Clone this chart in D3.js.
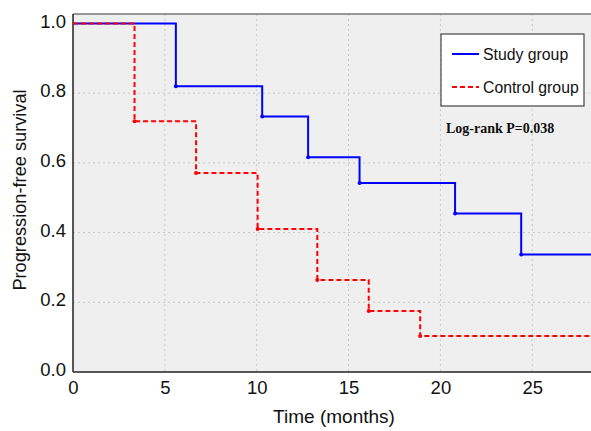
<!DOCTYPE html>
<style>
body { margin: 0; background: #fff; }
</style>
<svg id="km" width="591" height="431"></svg>
<script src="https://d3js.org/d3.v7.min.js"></script>
<script>

// step times (months) and survival after each step
var studyTimes = [0, 5.6, 10.3, 12.8, 15.6, 20.8, 24.4];
var studySurv = [1.0, 0.82, 0.733, 0.616, 0.542, 0.455, 0.337];
var controlTimes = [0, 3.35, 6.7, 10.05, 13.3, 16.1, 18.9];
var controlSurv = [1.0, 0.719, 0.571, 0.41, 0.264, 0.175, 0.103];
var xTicks = [0, 5, 10, 15, 20, 25];
var yTicks = [0, 0.2, 0.4, 0.6, 0.8, 1.0];
var xMax = 28.2;

var sans = "'Liberation Sans', Arial, sans-serif";
var svg = d3.select("#km");
var pL = 73, pR = 591, pT = 14, pB = 372;

var x = d3.scaleLinear().domain([0, xMax]).range([pL, pR]);
var y = d3.scaleLinear().domain([0, 1.027]).range([pB, pT]);

svg.append("rect")
  .attr("x", pL).attr("y", pT)
  .attr("width", pR - pL).attr("height", pB - pT)
  .attr("fill", "#efefef");

// dotted grid
svg.append("g").selectAll("line")
  .data(xTicks.slice(1))
  .enter().append("line")
    .attr("x1", function(d) { return x(d); })
    .attr("x2", function(d) { return x(d); })
    .attr("y1", pT).attr("y2", pB)
    .attr("stroke", "#c8c8c8").attr("stroke-dasharray", "2,3");

svg.append("g").selectAll("line")
  .data(yTicks.slice(1, 5))
  .enter().append("line")
    .attr("x1", pL).attr("x2", pR)
    .attr("y1", function(d) { return y(d); })
    .attr("y2", function(d) { return y(d); })
    .attr("stroke", "#c8c8c8").attr("stroke-dasharray", "2,3");

// frame
svg.append("line").attr("x1", pL).attr("x2", pR).attr("y1", pT).attr("y2", pT)
  .attr("stroke", "#777").attr("stroke-width", 1.5);
svg.append("line").attr("x1", pL).attr("x2", pR).attr("y1", pB).attr("y2", pB)
  .attr("stroke", "#222").attr("stroke-width", 1.5);
svg.append("line").attr("x1", pL).attr("x2", pL).attr("y1", pT).attr("y2", pB)
  .attr("stroke", "#222").attr("stroke-width", 1.5);

// axes (labels only)
var xAxis = svg.append("g")
  .attr("transform", "translate(0," + pB + ")")
  .call(d3.axisBottom(x).tickValues(xTicks).tickSize(0).tickPadding(9).tickFormat(d3.format("d")));
var yAxis = svg.append("g")
  .attr("transform", "translate(" + pL + ",0)")
  .call(d3.axisLeft(y).tickValues(yTicks).tickSize(0).tickPadding(7).tickFormat(d3.format(".1f")));
[xAxis, yAxis].forEach(function(a) {
  a.select(".domain").remove();
  a.selectAll("text").attr("font-size", 18.5).attr("fill", "#111")
    .attr("font-family", sans);
});
yAxis.selectAll("text").attr("dy", "0.2em");

svg.append("text")
  .attr("x", 334).attr("y", 423)
  .attr("font-family", sans)
  .attr("text-anchor", "middle").attr("font-size", 19).attr("fill", "#111")
  .text("Time (months)");
svg.append("text")
  .attr("transform", "translate(26,190) rotate(-90)")
  .attr("font-family", sans)
  .attr("text-anchor", "middle").attr("font-size", 18.2).attr("fill", "#111")
  .text("Progression-free survival");

function steps(times, surv) {
  var pts = [];
  times.forEach(function(t, i) { pts.push([t, surv[i]]); });
  pts.push([xMax, surv[surv.length - 1]]);
  return pts;
}

var line = d3.line()
  .x(function(d) { return x(d[0]); })
  .y(function(d) { return y(d[1]); })
  .curve(d3.curveStepAfter);

svg.append("clipPath").attr("id", "clip")
  .append("rect").attr("x", pL).attr("y", pT - 2)
  .attr("width", pR - pL).attr("height", pB - pT + 4);

var plot = svg.append("g").attr("clip-path", "url(#clip)");

plot.append("path")
  .datum(steps(studyTimes, studySurv))
  .attr("d", line)
  .attr("fill", "none").attr("stroke", "#0000ff").attr("stroke-width", 2);

plot.append("path")
  .datum(steps(controlTimes, controlSurv))
  .attr("d", line)
  .attr("fill", "none").attr("stroke", "#ff0000").attr("stroke-width", 2)
  .attr("stroke-dasharray", "5,3");

plot.selectAll(".sdot")
  .data(studyTimes.slice(1))
  .enter().append("circle")
    .attr("cx", function(d) { return x(d); })
    .attr("cy", function(d, i) { return y(studySurv[i + 1]); })
    .attr("r", 2).attr("fill", "#0000ff");

plot.selectAll(".cdot")
  .data(controlTimes.slice(1))
  .enter().append("circle")
    .attr("cx", function(d) { return x(d); })
    .attr("cy", function(d, i) { return y(controlSurv[i + 1]); })
    .attr("r", 2).attr("fill", "#ff0000");

// legend
var lg = svg.append("g");
lg.append("rect").attr("x", 441).attr("y", 34).attr("width", 143).attr("height", 72)
  .attr("fill", "#fff").attr("stroke", "#444").attr("stroke-width", 1.2);
lg.append("line").attr("x1", 452).attr("x2", 479).attr("y1", 54).attr("y2", 54)
  .attr("stroke", "#0000ff").attr("stroke-width", 2);
lg.append("line").attr("x1", 452).attr("x2", 479).attr("y1", 87).attr("y2", 87)
  .attr("stroke", "#ff0000").attr("stroke-width", 2).attr("stroke-dasharray", "5,3");
lg.append("text").attr("x", 483).attr("y", 59.5).attr("font-size", 15.8).attr("fill", "#111")
  .attr("font-family", sans).text("Study group");
lg.append("text").attr("x", 483).attr("y", 92.5).attr("font-size", 15.8).attr("fill", "#111")
  .attr("font-family", sans).text("Control group");

svg.append("text")
  .attr("x", 446).attr("y", 133)
  .attr("font-family", "'Liberation Serif', 'Times New Roman', serif")
  .attr("font-weight", "bold").attr("font-size", 14).attr("fill", "#111")
  .text("Log-rank P=0.038");

</script>
